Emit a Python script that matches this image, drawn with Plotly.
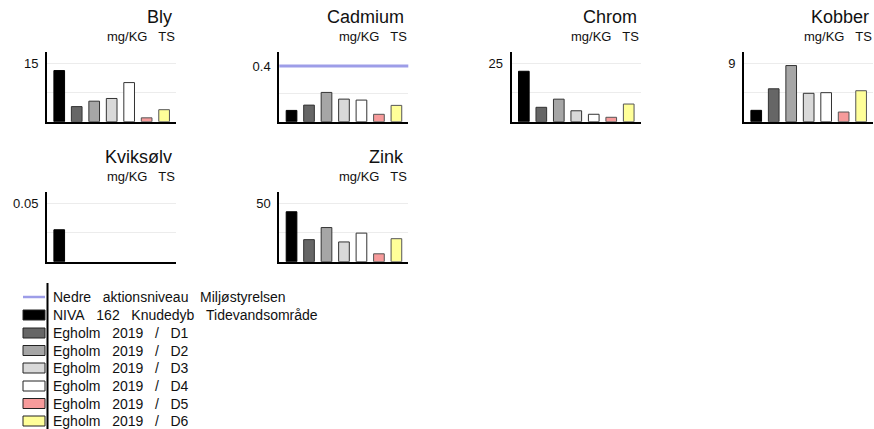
import plotly.graph_objects as go

# --- data -------------------------------------------------------------
metals = ["Bly", "Cadmium", "Chrom", "Kobber", "Kviksølv", "Zink"]
GAP = "\u00a0\u00a0\u00a0"
unit_label = "mg/KG" + GAP + "TS"

series_names = [
    GAP.join(["NIVA", "162", "Knudedyb", "Tidevandsområde"]),
    GAP.join(["Egholm", "2019", "/", "D1"]),
    GAP.join(["Egholm", "2019", "/", "D2"]),
    GAP.join(["Egholm", "2019", "/", "D3"]),
    GAP.join(["Egholm", "2019", "/", "D4"]),
    GAP.join(["Egholm", "2019", "/", "D5"]),
    GAP.join(["Egholm", "2019", "/", "D6"]),
]
niva = [13.2, 0.081, 21.7, 1.76, 0.0275, 43.0]
d1 = [3.9, 0.119, 6.2, 5.1, None, 19.0]
d2 = [5.3, 0.210, 9.7, 8.7, None, 29.4]
d3 = [6.0, 0.162, 4.7, 4.4, None, 17.0]
d4 = [10.1, 0.155, 3.2, 4.5, None, 24.6]
d5 = [1.0, 0.053, 1.9, 1.5, None, 6.8]
d6 = [3.1, 0.117, 7.6, 4.8, None, 19.8]
series_values = [niva, d1, d2, d3, d4, d5, d6]

limit_name = GAP.join(["Nedre", "aktionsniveau", "Miljøstyrelsen"])
limit_values = [None, 0.4, None, None, None, None]

tick_top = [15, 0.4, 25, 9, 0.05, 50]
tick_text = ["15", "0.4", "25", "9", "0.05", "50"]
axis_max = [18, 0.5, 30, 10.8, 0.06, 60]

# --- styling ----------------------------------------------------------
W, H = 874, 429
fills = ["#000000", "#666666", "#a6a6a6", "#d9d9d9", "#ffffff", "#f79b9b", "#ffff99"]
edges = ["#000000", "#333333", "#333333", "#333333", "#333333", "#555555", "#555555"]
limit_color = "#9d9de8"
FONT = "Liberation Sans, Arial, sans-serif"
TXT = "#111111"

col_left = [47, 279.3, 511.6, 744]
panel_w = 129
row_top = [52, 192]
panel_h = 69.7


def px_x(v):
    return v / W


def px_y(v):
    return 1 - v / H


fig = go.Figure()
layout = dict(
    width=W, height=H,
    margin=dict(l=0, r=0, t=0, b=0),
    paper_bgcolor="white", plot_bgcolor="white",
    showlegend=False, barmode="overlay",
    font=dict(family=FONT, color=TXT),
)
annotations = []
shapes = []

for k, metal in enumerate(metals):
    r, c = divmod(k, 4)
    ax = "" if k == 0 else str(k + 1)
    x0 = col_left[c]
    x1 = x0 + panel_w
    y0 = row_top[r]
    y1 = y0 + panel_h

    for s, name in enumerate(series_names):
        val = series_values[s][k]
        fig.add_trace(go.Bar(
            x=[s], y=[val], name=name, width=0.61,
            marker=dict(color=fills[s], line=dict(color=edges[s], width=1)),
            xaxis="x" + ax, yaxis="y" + ax,
        ))

    layout["xaxis" + ax] = dict(
        domain=[px_x(x0), px_x(x1)], anchor="y" + ax,
        range=[-0.7, 6.68], showticklabels=False, showgrid=False,
        zeroline=False, showline=True, linecolor="black", linewidth=2,
        ticks="", fixedrange=True,
    )
    layout["yaxis" + ax] = dict(
        domain=[px_y(y1), px_y(y0)], anchor="x" + ax,
        range=[0, axis_max[k]],
        tickvals=[tick_top[k] / 2, tick_top[k]], ticktext=["", tick_text[k]],
        tickfont=dict(size=13, family=FONT, color=TXT),
        showgrid=True, gridcolor="#ececec", gridwidth=1,
        zeroline=False, showline=True, linecolor="black", linewidth=2,
        ticks="", ticklabelstandoff=4, fixedrange=True,
    )

    if limit_values[k] is not None:
        shapes.append(dict(
            type="line", xref="x" + ax + " domain", yref="y" + ax,
            x0=0, x1=1, y0=limit_values[k], y1=limit_values[k],
            line=dict(color=limit_color, width=3),
        ))

    annotations.append(dict(
        text=metal, xref="paper", yref="paper",
        x=px_x(x1 - 2), y=px_y(y0 - 35), xanchor="right", yanchor="middle",
        showarrow=False, font=dict(size=18, family=FONT, color=TXT),
    ))
    annotations.append(dict(
        text=unit_label, xref="paper", yref="paper",
        x=px_x(x1 + 0.5), y=px_y(y0 - 16), xanchor="right", yanchor="middle",
        showarrow=False, font=dict(size=13, family=FONT, color=TXT),
    ))

# --- legend block ------------------------------------------------------
legend_names = [limit_name] + series_names
row_y = [297, 315, 333, 350.5, 368, 386, 403.5, 421]
sym_x0, sym_x1 = 23, 45

shapes.append(dict(
    type="line", xref="paper", yref="paper",
    x0=px_x(47.5), x1=px_x(47.5), y0=px_y(283), y1=px_y(H),
    line=dict(color="black", width=2),
))
for i, label in enumerate(legend_names):
    yc = row_y[i]
    if i == 0:
        shapes.append(dict(
            type="line", xref="paper", yref="paper",
            x0=px_x(sym_x0), x1=px_x(sym_x1), y0=px_y(yc), y1=px_y(yc),
            line=dict(color=limit_color, width=2.5),
        ))
    else:
        s = i - 1
        shapes.append(dict(
            type="rect", xref="paper", yref="paper",
            x0=px_x(sym_x0), x1=px_x(sym_x1), y0=px_y(yc + 5), y1=px_y(yc - 5),
            fillcolor=fills[s], line=dict(color="#222222", width=1),
        ))
    annotations.append(dict(
        text=label, xref="paper", yref="paper",
        x=px_x(51), y=px_y(yc), xanchor="left", yanchor="middle",
        showarrow=False, font=dict(size=14, family=FONT, color=TXT),
    ))

layout["annotations"] = annotations
layout["shapes"] = shapes
fig.update_layout(**layout)
fig.write_html("out.html")
